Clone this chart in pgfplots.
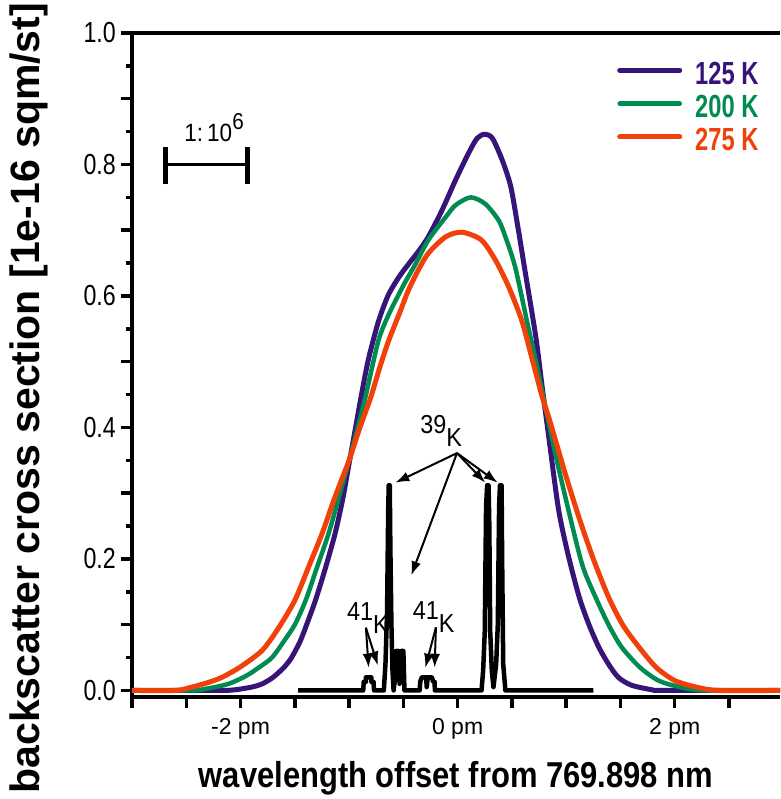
\documentclass[border=0pt]{standalone}
\usepackage{fontspec}
\setmainfont{Liberation Sans}
\newfontfamily\condfont[FakeStretch=0.8]{Liberation Sans}
\newfontfamily\annfont[FakeStretch=0.9]{Liberation Sans}
\newfontfamily\lgfont[FakeStretch=0.74]{Liberation Sans}
\newfontfamily\xlfont[FakeStretch=0.86]{Liberation Sans}
\usepackage{pgfplots}
\pgfplotsset{compat=1.18}
\usetikzlibrary{arrows.meta}
\definecolor{c125}{RGB}{55,20,120}
\definecolor{c200}{RGB}{0,140,80}
\definecolor{c275}{RGB}{240,65,10}
\begin{document}
\begin{tikzpicture}
\begin{axis}[
  scale only axis, width=648pt, height=664pt,
  xmin=-3, xmax=2.97, ymin=-0.01, ymax=1.0,
  clip=false,
  axis x line*=bottom, axis y line*=left,
  axis line style={line width=4pt, black},
  tick align=outside,
  xtick={-3,-2.5,-2,-1.5,-1,-0.5,0,0.5,1,1.5,2,2.5},
  xticklabels={,,{-2 pm},,,,{0 pm},,,,{2 pm},},
  ytick={0,0.1,0.2,0.3,0.4,0.5,0.6,0.7,0.8,0.9,1.0},
  yticklabels={0.0,,0.2,,0.4,,0.6,,0.8,,1.0},
  minor ytick={0.05,0.15,0.25,0.35,0.45,0.55,0.65,0.75,0.85,0.95},
  major tick length=11pt, minor tick length=6pt,
  tick style={line width=3.5pt, black},
  /pgf/number format/assume math mode=true,
  xticklabel style={font=\fontsize{23}{23}\selectfont, inner sep=0pt, yshift=-10pt},
  yticklabel style={font=\condfont\fontsize{29}{29}\selectfont, inner sep=0pt, xshift=-5pt},
  xlabel={wavelength offset from 769.898 nm},
  xlabel style={font=\xlfont\bfseries\fontsize{36}{36}\selectfont, at={(axis description cs:0.5,0)}, anchor=base, yshift=-90pt, inner sep=0pt},
  ylabel={backscatter cross section [1e-16 sqm/st]},
  ylabel style={font=\bfseries\fontsize{41}{41}\selectfont, at={(axis description cs:-0.142,0.45)}, anchor=base, inner sep=0pt},
  legend style={draw=none, fill=none, at={(axis description cs:0.7485,0.9568)}, anchor=north west,
     font=\lgfont\bfseries\fontsize{32}{32}\selectfont, inner sep=0pt, row sep=9.5pt,
     nodes={inner sep=0pt}},
  legend cell align=left,
  legend image code/.code={\draw[#1, line cap=round] (0pt,0.35em) -- (60pt,0.35em); \path (73pt,0.35em);},
]
% 125 K
\addplot[c125, line width=5pt, smooth, tension=0.45, line join=round] coordinates {
(-3.0,0) (-2.2,0) (-2.05,0.001) (-1.9,0.005) (-1.8,0.01) (-1.7,0.02) (-1.6,0.035) (-1.53,0.05)
(-1.45,0.075) (-1.38,0.105) (-1.31,0.137) (-1.22,0.185) (-1.13,0.238) (-1.06,0.29) (-1.0,0.345)
(-0.94,0.40) (-0.88,0.455) (-0.82,0.505) (-0.73,0.561) (-0.64,0.601) (-0.54,0.629) (-0.45,0.649)
(-0.36,0.668) (-0.27,0.69) (-0.145,0.73) (-0.02,0.776) (0.10,0.817) (0.18,0.840) (0.25,0.846)
(0.32,0.840) (0.41,0.807) (0.49,0.766) (0.56,0.70) (0.62,0.639) (0.72,0.538) (0.78,0.46)
(0.84,0.385) (0.93,0.275) (1.02,0.205) (1.12,0.142) (1.21,0.10) (1.30,0.066) (1.39,0.04)
(1.48,0.02) (1.6,0.008) (1.79,0.001) (1.9,0) (2.97,0)
};
\addlegendentry{\textcolor{c125}{125 K}}
% 200 K
\addplot[c200, line width=4.5pt, smooth, tension=0.45, line join=round] coordinates {
(-3.0,0) (-2.45,0) (-2.3,0.003) (-2.11,0.01) (-1.95,0.022) (-1.83,0.035) (-1.71,0.05) (-1.6,0.075)
(-1.5,0.10) (-1.40,0.137) (-1.30,0.185) (-1.19,0.238) (-1.10,0.29) (-1.0,0.35) (-0.92,0.40)
(-0.85,0.446) (-0.73,0.532) (-0.64,0.57) (-0.55,0.60) (-0.48,0.622) (-0.39,0.648) (-0.27,0.685)
(-0.11,0.72) (-0.02,0.738) (0.12,0.75) (0.255,0.74) (0.378,0.715) (0.44,0.69) (0.53,0.644)
(0.65,0.553) (0.716,0.505) (0.79,0.446) (0.9,0.36) (1.02,0.275) (1.15,0.19) (1.27,0.142)
(1.39,0.10) (1.51,0.066) (1.68,0.035) (1.85,0.015) (2.05,0.005) (2.28,0) (2.97,0)
};
\addlegendentry{\textcolor{c200}{200 K}}
% 275 K
\addplot[c275, line width=5pt, smooth, tension=0.45, line join=round] coordinates {
(-3.0,0) (-2.6,0) (-2.45,0.005) (-2.3,0.012) (-2.17,0.02) (-2.0,0.036) (-1.80,0.061) (-1.65,0.095)
(-1.50,0.137) (-1.38,0.185) (-1.25,0.238) (-1.15,0.285) (-1.07,0.32) (-1.0,0.35) (-0.9,0.40)
(-0.80,0.446) (-0.72,0.49) (-0.64,0.53) (-0.54,0.572) (-0.45,0.61) (-0.36,0.64) (-0.27,0.665)
(-0.11,0.69) (0.04,0.697) (0.22,0.685) (0.35,0.654) (0.47,0.614) (0.59,0.563) (0.685,0.505)
(0.78,0.446) (0.84,0.415) (0.92,0.37) (1.0,0.325) (1.12,0.262) (1.25,0.20) (1.39,0.142)
(1.52,0.10) (1.67,0.066) (1.83,0.035) (2.0,0.015) (2.2,0.005) (2.4,0) (2.97,0)
};
\addlegendentry{\textcolor{c275}{275 K}}
% K lines
\addplot[black, line width=4.5pt, line join=round, forget plot] coordinates {
(-1.47,0) (-0.87,0) (-0.865,0.013) (-0.845,0.013) (-0.845,0.02) (-0.795,0.02) (-0.795,0.013)
(-0.775,0.013) (-0.77,0) (-0.68,0) (-0.665,0.04) (-0.65,0.12) (-0.64,0.27) (-0.635,0.312) (-0.625,0.312)
(-0.62,0.22) (-0.61,0.1) (-0.6,0.03) (-0.59,0.0) (-0.575,0.02) (-0.565,0.06) (-0.545,0.06) (-0.535,0.01)
(-0.52,0.06) (-0.5,0.06) (-0.49,0.0) (-0.35,0) (-0.345,0.013) (-0.33,0.02) (-0.29,0.02)
(-0.285,0.005) (-0.275,0.02) (-0.237,0.02) (-0.225,0.013) (-0.212,0.013) (-0.21,0) (0.22,0)
(0.235,0.03) (0.25,0.09) (0.262,0.28) (0.272,0.312) (0.285,0.312) (0.292,0.25) (0.3,0.09)
(0.315,0.03) (0.33,0.005) (0.355,0.04) (0.37,0.1) (0.382,0.28) (0.39,0.312) (0.405,0.312)
(0.41,0.2) (0.42,0.04) (0.44,0) (1.25,0)
};
% top axis line
\draw[line width=3.5pt] ([xshift=-10pt]rel axis cs:0,1) -- (rel axis cs:1,1);
% scale bar
\draw[line width=3pt] (axis cs:-2.69,0.80) -- (axis cs:-1.935,0.80);
\draw[line width=5pt] (axis cs:-2.69,0.77) -- (axis cs:-2.69,0.826);
\draw[line width=5pt] (axis cs:-1.935,0.77) -- (axis cs:-1.935,0.826);
\node[anchor=base west, inner sep=0pt, font=\annfont\fontsize{25}{25}\selectfont] at (axis cs:-2.52,0.8345) {1:\,10\raisebox{12pt}{\fontsize{23}{23}\selectfont 6}};
% annotations
\node[anchor=base west, inner sep=0pt, font=\annfont\fontsize{26}{26}\selectfont] at (axis cs:-0.345,0.371) {\raisebox{13pt}{39}K};
\node[anchor=base west, inner sep=0pt, font=\annfont\fontsize{26}{26}\selectfont] at (axis cs:-1.02,0.087) {\raisebox{13pt}{41}K};
\node[anchor=base west, inner sep=0pt, font=\annfont\fontsize{26}{26}\selectfont] at (axis cs:-0.415,0.088) {\raisebox{13pt}{41}K};
\begin{scope}[line width=2pt, -{Latex[length=14pt,width=10pt]}]
\draw (axis cs:-0.006,0.361) -- (axis cs:-0.574,0.316);
\draw (axis cs:-0.006,0.361) -- (axis cs:-0.427,0.175);
\draw (axis cs:-0.006,0.361) -- (axis cs:0.255,0.316);
\draw (axis cs:-0.006,0.361) -- (axis cs:0.369,0.316);
\draw (axis cs:-0.845,0.0954) -- (axis cs:-0.82,0.0345);
\draw (axis cs:-0.845,0.0954) -- (axis cs:-0.735,0.038);
\draw (axis cs:-0.2,0.096) -- (axis cs:-0.298,0.0345);
\draw (axis cs:-0.2,0.096) -- (axis cs:-0.212,0.0345);
\end{scope}
\coordinate (SW) at (rel axis cs:0,0);
\coordinate (NE) at (rel axis cs:1,1);
\end{axis}
\pgfresetboundingbox
\path[use as bounding box] ([xshift=-132pt,yshift=-102pt]SW) rectangle ([yshift=33pt]NE);
\end{tikzpicture}
\end{document}
